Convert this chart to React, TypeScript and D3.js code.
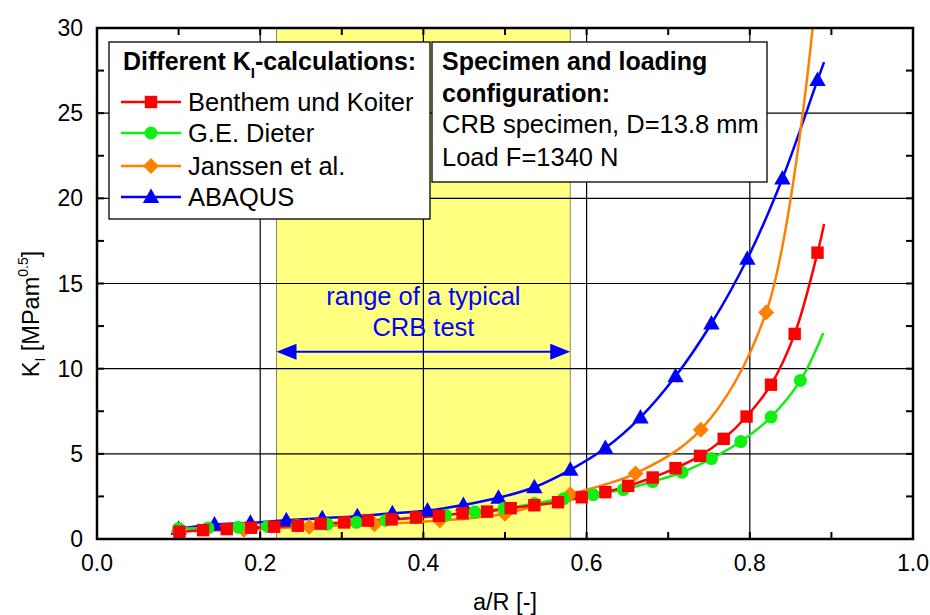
import React from "react";
import * as d3 from "d3";

// ---- data ----
const redX = [0.101,0.130,0.159,0.189,0.217,0.246,0.274,0.303,0.332,0.361,0.391,0.419,0.448,0.478,0.507,0.536,0.565,0.594,0.623,0.651,0.681,0.709,0.739,0.768,0.796,0.826,0.855,0.883];
const redY = [0.43,0.52,0.58,0.66,0.72,0.78,0.9,0.97,1.08,1.15,1.26,1.36,1.51,1.61,1.81,1.98,2.16,2.45,2.75,3.12,3.61,4.16,4.88,5.88,7.19,9.06,12.04,16.81];
const redEnd = [0.891, 18.5];

const greenX = [0.1,0.136,0.173,0.209,0.245,0.282,0.318,0.354,0.391,0.427,0.463,0.499,0.536,0.572,0.608,0.645,0.681,0.717,0.753,0.789,0.826,0.862];
const greenY = [0.62,0.65,0.69,0.74,0.79,0.87,0.98,1.1,1.24,1.4,1.58,1.8,2.08,2.37,2.6,2.9,3.37,3.92,4.72,5.72,7.16,9.31];
const greenEnd = [0.890, 12.1];

const orangeX = [0.1,0.18,0.26,0.34,0.42,0.5,0.58,0.66,0.74,0.82];
const orangeY = [0.45,0.55,0.72,0.86,1.08,1.48,2.62,3.85,6.42,13.3];
const orangeEnd = [0.877, 30];

const blueX = [0.1,0.144,0.188,0.232,0.276,0.319,0.362,0.405,0.449,0.492,0.536,0.58,0.623,0.666,0.709,0.753,0.797,0.84,0.883];
const blueY = [0.6,0.85,0.95,1.1,1.22,1.34,1.51,1.67,2.0,2.42,3.04,4.06,5.34,7.14,9.55,12.65,16.45,21.16,26.94];
const blueEnd = [0.891, 28.0];

const seriesNames = ["Benthem und Koiter", "G.E. Dieter", "Janssen et al.", "ABAQUS"];
const xTickLabels = ["0.0", "0.2", "0.4", "0.6", "0.8", "1.0"];
const yTickLabels = ["0", "5", "10", "15", "20", "25", "30"];
const rangeStart = 0.22;
const rangeEnd = 0.58;
const rangeArrowY = 11;

const FONT = "'Liberation Sans', Arial, Helvetica, sans-serif";

type Shape = "square" | "circle" | "diamond" | "triangle";

function Marker({ cx, cy, shape, color }: { cx: number; cy: number; shape: Shape; color: string }) {
  if (shape === "square") return <rect x={cx - 6.2} y={cy - 6.2} width={12.4} height={12.4} fill={color} />;
  if (shape === "circle") return <circle cx={cx} cy={cy} r={6.5} fill={color} />;
  if (shape === "diamond")
    return <path d={`M${cx},${cy - 8}L${cx + 8},${cy}L${cx},${cy + 8}L${cx - 8},${cy}Z`} fill={color} />;
  return <path d={`M${cx},${cy - 8.5}L${cx + 8.2},${cy + 6}L${cx - 8.2},${cy + 6}Z`} fill={color} />;
}

export default function App() {
  const W = 930, H = 615;
  const x = d3.scaleLinear().domain([0, 1]).range([97, 913]);
  const y = d3.scaleLinear().domain([0, 30]).range([539, 28]);

  const series = [
    { name: seriesNames[3], xs: blueX, ys: blueY, end: blueEnd, color: "#0000ff", shape: "triangle" as Shape },
    { name: seriesNames[2], xs: orangeX, ys: orangeY, end: orangeEnd, color: "#ff8000", shape: "diamond" as Shape },
    { name: seriesNames[1], xs: greenX, ys: greenY, end: greenEnd, color: "#11ee11", shape: "circle" as Shape },
    { name: seriesNames[0], xs: redX, ys: redY, end: redEnd, color: "#ff0000", shape: "square" as Shape },
  ];
  const legendOrder = [series[3], series[2], series[1], series[0]];

  const line = d3
    .line<[number, number]>()
    .x((d) => x(d[0]))
    .y((d) => y(d[1]))
    .curve(d3.curveCatmullRom.alpha(0.5));

  const minorX = d3.range(0, 11).map((i) => i / 10);
  const minorY = d3.range(0, 13).map((i) => i * 2.5);
  const gridX = [0.2, 0.4, 0.6, 0.8];
  const gridY = [5, 10, 15, 20, 25];

  const x0 = x(0), x1 = x(1), y0 = y(0), y1 = y(30);
  const ay = y(rangeArrowY);
  const ax0 = x(rangeStart), ax1 = x(rangeEnd);

  return (
    <svg width={W} height={H} style={{ position: "absolute", left: 0, top: 0, background: "#fff" }} fontFamily={FONT}>
      <defs>
        <clipPath id="plotClip">
          <rect x={x0} y={y1} width={x1 - x0} height={y0 - y1} />
        </clipPath>
      </defs>
      <rect x={0} y={0} width={W} height={H} fill="#fff" />
      {/* typical range band */}
      <rect x={ax0} y={y1} width={ax1 - ax0} height={y0 - y1} fill="#ffff80" stroke="#8a8a6a" strokeWidth={1} />
      {/* grid */}
      {gridX.map((v) => (
        <line key={"gx" + v} x1={x(v)} x2={x(v)} y1={y0} y2={y1} stroke="#000" strokeWidth={1.2} />
      ))}
      {gridY.map((v) => (
        <line key={"gy" + v} x1={x0} x2={x1} y1={y(v)} y2={y(v)} stroke="#000" strokeWidth={1.2} />
      ))}
      {/* ticks */}
      {minorX.map((v) => (
        <g key={"tx" + v}>
          <line x1={x(v)} x2={x(v)} y1={y0} y2={y0 - 7} stroke="#000" strokeWidth={2} />
          <line x1={x(v)} x2={x(v)} y1={y1} y2={y1 + 7} stroke="#000" strokeWidth={2} />
        </g>
      ))}
      {minorY.map((v) => (
        <g key={"ty" + v}>
          <line x1={x0} x2={x0 + 7} y1={y(v)} y2={y(v)} stroke="#000" strokeWidth={2} />
          <line x1={x1} x2={x1 - 7} y1={y(v)} y2={y(v)} stroke="#000" strokeWidth={2} />
        </g>
      ))}
      {/* range annotation */}
      <text x={x(0.4)} y={305} textAnchor="middle" fontSize={25.5} fill="#0000ff">range of a typical</text>
      <text x={x(0.4)} y={336} textAnchor="middle" fontSize={25.5} fill="#0000ff">CRB test</text>
      <line x1={ax0 + 12} x2={ax1 - 12} y1={ay} y2={ay} stroke="#0000ff" strokeWidth={2} />
      <path d={`M${ax0},${ay}L${ax0 + 20},${ay - 8}L${ax0 + 20},${ay + 8}Z`} fill="#0000ff" />
      <path d={`M${ax1},${ay}L${ax1 - 20},${ay - 8}L${ax1 - 20},${ay + 8}Z`} fill="#0000ff" />
      {/* series */}
      <g clipPath="url(#plotClip)">
        {series.map((s) => {
          const pts: [number, number][] = s.xs.map((v, i) => [v, s.ys[i]] as [number, number]);
          pts.push([s.end[0], s.end[1]]);
          return <path key={"l" + s.name} d={line(pts) || ""} fill="none" stroke={s.color} strokeWidth={2.5} />;
        })}
        {series.map((s) => (
          <g key={"m" + s.name}>
            {s.xs.map((v, i) => (
              <Marker key={i} cx={x(v)} cy={y(s.ys[i])} shape={s.shape} color={s.color} />
            ))}
          </g>
        ))}
      </g>
      {/* frame */}
      <rect x={x0} y={y1} width={x1 - x0} height={y0 - y1} fill="none" stroke="#000" strokeWidth={2.5} />
      {/* tick labels */}
      {xTickLabels.map((t, i) => (
        <text key={"xl" + t} x={x(i * 0.2)} y={571} textAnchor="middle" fontSize={23}>{t}</text>
      ))}
      {yTickLabels.map((t, i) => (
        <text key={"yl" + t} x={83} y={y(i * 5) + 8} textAnchor="end" fontSize={23}>{t}</text>
      ))}
      <text x={x(0.5)} y={610} textAnchor="middle" fontSize={23.5}>a/R [-]</text>
      <text transform={`translate(39,314) rotate(-90)`} textAnchor="middle" fontSize={23.5}>
        K<tspan fontSize={14} dy={6}>I</tspan>
        <tspan dy={-6}> [MPam</tspan>
        <tspan fontSize={14} dy={-11}>0.5</tspan>
        <tspan dy={11}>]</tspan>
      </text>
      {/* legend box 1 */}
      <rect x={109} y={42} width={321} height={177} fill="#fff" stroke="#000" strokeWidth={1.3} />
      <text x={123} y={70} fontSize={25} fontWeight="bold">
        Different K<tspan fontSize={15} dy={8}>I</tspan>
        <tspan dy={-8}>-calculations:</tspan>
      </text>
      {legendOrder.map((s, i) => {
        const base = [111, 142, 175, 206][i];
        const cy = base - 9;
        return (
          <g key={"lg" + s.name}>
            <line x1={121} x2={181} y1={cy} y2={cy} stroke={s.color} strokeWidth={2.5} />
            <Marker cx={151} cy={cy} shape={s.shape} color={s.color} />
            <text x={188} y={base} fontSize={25.5}>{s.name}</text>
          </g>
        );
      })}
      {/* legend box 2 */}
      <rect x={432} y={42} width={335} height={140} fill="#fff" stroke="#000" strokeWidth={1.3} />
      <text x={442} y={70} fontSize={25} fontWeight="bold">Specimen and loading</text>
      <text x={442} y={102} fontSize={25} fontWeight="bold">configuration:</text>
      <text x={442} y={133} fontSize={25.5}>CRB specimen, D=13.8 mm</text>
      <text x={442} y={166} fontSize={25.5}>Load F=1340 N</text>
    </svg>
  );
}
